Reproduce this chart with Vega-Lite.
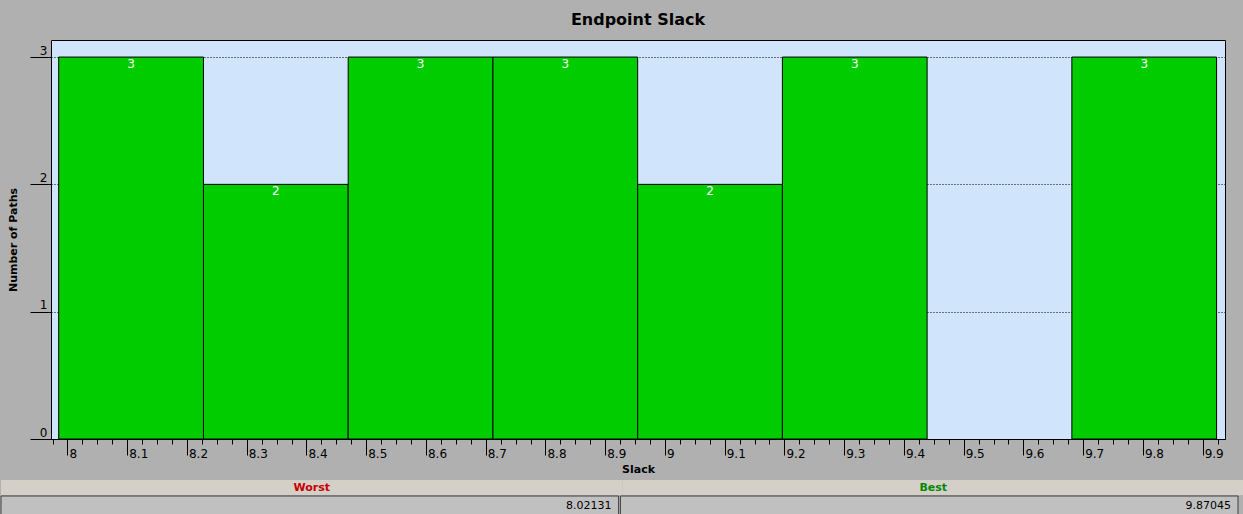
{
  "$schema": "https://vega.github.io/schema/vega-lite/v6.json",
  "background": "#b0b0b0",
  "padding": {"left": 0, "top": 11, "right": 0, "bottom": 0},
  "autosize": {"type": "pad"},
  "config": {"font": "DejaVu Sans", "view": {"stroke": null}},
  "title": {"text": "Endpoint Slack", "anchor": "middle", "frame": "group", "font": "DejaVu Sans", "fontSize": 16, "fontWeight": "bold", "color": "#000", "offset": 12},
  "spacing": 5,
  "vconcat": [
    {
      "width": 1174,
      "height": 399,
      "view": {"fill": "#d0e4fc", "stroke": "#000", "strokeWidth": 1},
      "data": {"values": [
        {"start": 7.9853, "end": 8.2276, "center": 8.1064, "count": 3},
        {"start": 8.2276, "end": 8.4698, "center": 8.3487, "count": 2},
        {"start": 8.4698, "end": 8.7121, "center": 8.5910, "count": 3},
        {"start": 8.7121, "end": 8.9543, "center": 8.8332, "count": 3},
        {"start": 8.9543, "end": 9.1966, "center": 9.0755, "count": 2},
        {"start": 9.1966, "end": 9.4388, "center": 9.3177, "count": 3},
        {"start": 9.6811, "end": 9.9233, "center": 9.8022, "count": 3}
      ]},
      "resolve": {"axis": {"x": "independent"}},
      "layer": [
        {
          "mark": {"type": "rect", "fill": "#00cc00", "stroke": "#000", "strokeWidth": 1},
          "encoding": {
            "x": {"field": "start", "type": "quantitative",
              "scale": {"domain": [7.9724, 9.9374], "nice": false, "zero": false},
              "axis": {"orient": "bottom", "values": [8, 8.1, 8.2, 8.3, 8.4, 8.5, 8.6, 8.7, 8.8, 8.9, 9, 9.1, 9.2, 9.3, 9.4, 9.5, 9.6, 9.7, 9.8, 9.9],
                "format": ".2~f", "tickSize": 16, "tickColor": "#000", "domain": false, "grid": false,
                "labelAlign": "left", "labelBaseline": "top", "labelPadding": -7, "labelOffset": 1.5,
                "labelFont": "DejaVu Sans", "labelFontSize": 12, "labelColor": "#000", "labelOverlap": false, "labelFlush": false, "labelBound": false,
                "title": "Slack", "titleFont": "DejaVu Sans", "titleFontSize": 11, "titleFontWeight": "bold", "titleColor": "#000", "titlePadding": 4}},
            "x2": {"field": "end"},
            "y": {"field": "count", "type": "quantitative",
              "scale": {"domain": [0, 3.134], "nice": false, "zero": true},
              "axis": {"values": [0, 1, 2, 3], "format": "d", "tickSize": 21, "tickColor": "#000", "domain": false,
                "grid": true, "gridColor": "#000", "gridDash": [1, 2], "gridOpacity": 1, "gridWidth": 1,
                "labelAlign": "right", "labelBaseline": "alphabetic", "labelPadding": -17, "labelOffset": -3,
                "labelFont": "DejaVu Sans", "labelFontSize": 12, "labelColor": "#000", "labelFlush": false,
                "title": "Number of Paths", "titleFont": "DejaVu Sans", "titleFontSize": 11, "titleFontWeight": "bold", "titleColor": "#000", "titlePadding": 11}},
            "y2": {"datum": 0}
          }
        },
        {
          "mark": {"type": "text", "color": "#ffffff", "font": "DejaVu Sans", "fontSize": 12, "baseline": "top", "dy": 2},
          "encoding": {
            "x": {"field": "center", "type": "quantitative",
              "axis": {"orient": "bottom", "values": [7.975,8,8.025,8.05,8.075,8.1,8.125,8.15,8.175,8.2,8.225,8.25,8.275,8.3,8.325,8.35,8.375,8.4,8.425,8.45,8.475,8.5,8.525,8.55,8.575,8.6,8.625,8.65,8.675,8.7,8.725,8.75,8.775,8.8,8.825,8.85,8.875,8.9,8.925,8.95,8.975,9,9.025,9.05,9.075,9.1,9.125,9.15,9.175,9.2,9.225,9.25,9.275,9.3,9.325,9.35,9.375,9.4,9.425,9.45,9.475,9.5,9.525,9.55,9.575,9.6,9.625,9.65,9.675,9.7,9.725,9.75,9.775,9.8,9.825,9.85,9.875,9.9,9.925],
                "tickSize": 5, "tickColor": "#000", "labels": false, "domain": false, "grid": false, "title": null}},
            "y": {"field": "count", "type": "quantitative"},
            "text": {"field": "count", "type": "quantitative"}
          }
        }
      ]
    },
    {
      "spacing": 0,
      "vconcat": [
        {
          "width": 1174,
          "height": 15,
          "data": {"values": [{"side": "Worst", "value": "8.02131"}, {"side": "Best", "value": "9.87045"}]},
          "layer": [
            {
              "mark": {"type": "rect", "fill": "#d4d0c8"},
              "encoding": {
                "x": {"field": "side", "type": "nominal", "scale": {"domain": ["Worst", "Best"], "range": [-50, 1193], "paddingInner": 0, "paddingOuter": 0}, "axis": null}
              }
            },
            {
              "mark": {"type": "text", "font": "DejaVu Sans", "fontSize": 11, "fontWeight": "bold"},
              "encoding": {
                "x": {"field": "side", "type": "nominal"},
                "text": {"field": "side", "type": "nominal"},
                "color": {"field": "side", "type": "nominal", "scale": {"domain": ["Worst", "Best"], "range": ["#c80000", "#008800"]}, "legend": null}
              }
            }
          ]
        },
        {
          "width": 1174,
          "height": 20,
          "data": {"values": [{"side": "Worst", "value": "8.02131"}, {"side": "Best", "value": "9.87045"}]},
          "layer": [
            {
              "mark": {"type": "rect", "fill": "#c0c0c0", "stroke": "#404040", "strokeWidth": 1},
              "encoding": {
                "x": {"field": "side", "type": "nominal", "scale": {"domain": ["Worst", "Best"], "range": [-50, 1187], "paddingInner": 0.003, "paddingOuter": 0}, "axis": null}
              }
            },
            {
              "mark": {"type": "text", "align": "right", "dx": -7, "font": "DejaVu Sans", "fontSize": 11, "color": "#000"},
              "encoding": {
                "x": {"field": "side", "type": "nominal", "bandPosition": 1},
                "text": {"field": "value", "type": "nominal"}
              }
            }
          ]
        }
      ]
    }
  ]
}
